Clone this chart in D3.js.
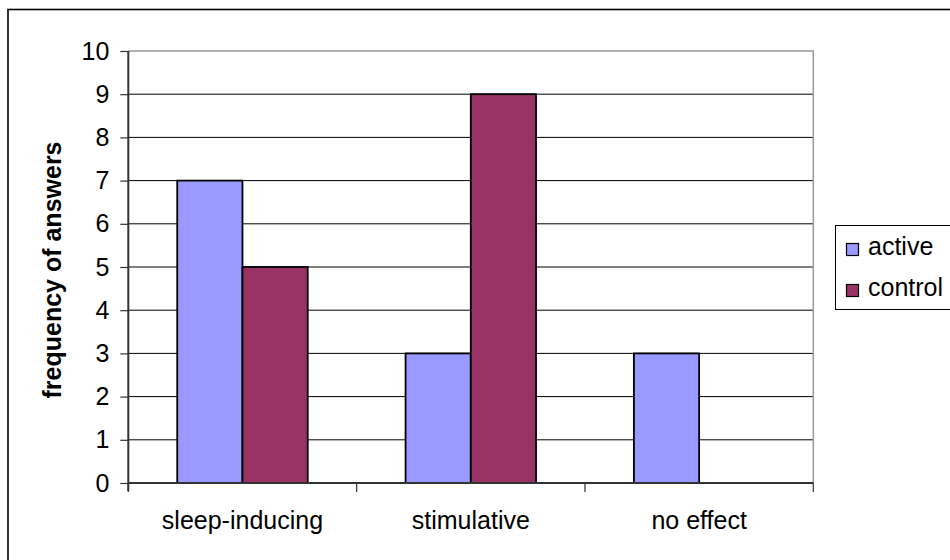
<!DOCTYPE html>
<html>
<head>
<meta charset="utf-8">
<script src="https://cdn.jsdelivr.net/npm/d3@7"></script>
<style>
html,body{margin:0;padding:0;background:#fff;}
svg{display:block;font-family:"Liberation Sans",Arial,sans-serif;}
</style>
</head>
<body>
<svg id="chart" width="950" height="560"></svg>
<script>
const categories = ["sleep-inducing", "stimulative", "no effect"];
const seriesNames = ["active", "control"];
const activeValues = [7, 3, 3];
const controlValues = [5, 9, 0];
const yTickValues = [0, 1, 2, 3, 4, 5, 6, 7, 8, 9, 10];
const seriesColors = ["#9999FF", "#993366"];
const yAxisTitle = "frequency of answers";

(function () {
const svg = d3.select("#chart");
const pLeft = 128.3, pRight = 813.3, pTop = 51, pBottom = 483;

// outer chart border (clipped at right/bottom)
svg.append("rect").attr("x", 8).attr("y", 9.5).attr("width", 980).attr("height", 600)
  .attr("fill", "#fff").attr("stroke", "#000").attr("stroke-width", 1.6);

const x = d3.scaleBand().domain(categories).range([pLeft, pRight]).padding(0);
const xs = d3.scaleBand().domain(seriesNames).range([0, x.bandwidth()])
  .paddingInner(0).paddingOuter(0.75);
const y = d3.scaleLinear().domain([0, 10]).range([pBottom, pTop]);

// gridlines
svg.append("g").selectAll("line").data(yTickValues.filter(d => d > 0 && d < 10)).join("line")
  .attr("x1", pLeft).attr("x2", pRight)
  .attr("y1", d => y(d)).attr("y2", d => y(d))
  .attr("stroke", "#000").attr("stroke-width", 1);

// plot area border (top & right, gray)
svg.append("path")
  .attr("d", `M${pLeft},${y(10)}H${pRight}V${pBottom}`)
  .attr("fill", "none").attr("stroke", "#999").attr("stroke-width", 1.5);

// bars
const rows = categories.map((c, i) => ({ cat: c, vals: [activeValues[i], controlValues[i]] }));
const g = svg.append("g");
rows.forEach(r => {
  r.vals.forEach((v, j) => {
    if (v <= 0) return;
    g.append("rect")
      .attr("x", x(r.cat) + xs(seriesNames[j]))
      .attr("y", y(v))
      .attr("width", xs.bandwidth())
      .attr("height", y(0) - y(v))
      .attr("fill", seriesColors[j])
      .attr("stroke", "#000").attr("stroke-width", 1.8);
  });
});

// y axis
const yAxis = d3.axisLeft(y).tickValues(yTickValues).tickSize(8).tickPadding(11).tickFormat(d3.format("d"));
const ya = svg.append("g").attr("transform", `translate(${pLeft},0)`).call(yAxis);
ya.select(".domain").attr("stroke", "#333").attr("stroke-width", 2).attr("d", `M0,${pTop}V${pBottom + 8}`);
ya.selectAll(".tick line").attr("stroke", "#333").attr("stroke-width", 1.2);
ya.selectAll(".tick text").attr("font-size", 25).attr("fill", "#000")
  .attr("font-family", "'Liberation Sans', Arial, sans-serif");

// x axis
const xa = svg.append("g");
xa.append("line").attr("x1", pLeft).attr("x2", pRight).attr("y1", pBottom).attr("y2", pBottom)
  .attr("stroke", "#333").attr("stroke-width", 2);
const bounds = categories.map(c => x(c)).concat([pRight]);
xa.selectAll("line.xt").data(bounds).join("line").attr("class", "xt")
  .attr("x1", d => d).attr("x2", d => d).attr("y1", pBottom).attr("y2", pBottom + 9)
  .attr("stroke", "#333").attr("stroke-width", 1.2);
xa.selectAll("text").data(categories).join("text")
  .attr("x", d => x(d) + x.bandwidth() / 2).attr("y", 529)
  .attr("text-anchor", "middle").attr("font-size", 25).attr("fill", "#000")
  .text(d => d);

// y axis title
svg.append("text")
  .attr("transform", `translate(61,${(pTop + pBottom) / 2 + 3}) rotate(-90)`)
  .attr("text-anchor", "middle").attr("font-size", 25).attr("font-weight", "bold")
  .text(yAxisTitle);

// legend
const lg = svg.append("g");
lg.append("rect").attr("x", 835.5).attr("y", 225.5).attr("width", 140).attr("height", 84)
  .attr("fill", "#fff").attr("stroke", "#000").attr("stroke-width", 1);
seriesNames.forEach((s, i) => {
  const by = 255 + i * 41;
  lg.append("rect").attr("x", 846.5).attr("y", by - 11.5).attr("width", 12).attr("height", 12)
    .attr("fill", seriesColors[i]).attr("stroke", "#000").attr("stroke-width", 1.2);
  lg.append("text").attr("x", 868).attr("y", by).attr("font-size", 25).attr("fill", "#000").text(s);
});
})();
</script>
</body>
</html>
